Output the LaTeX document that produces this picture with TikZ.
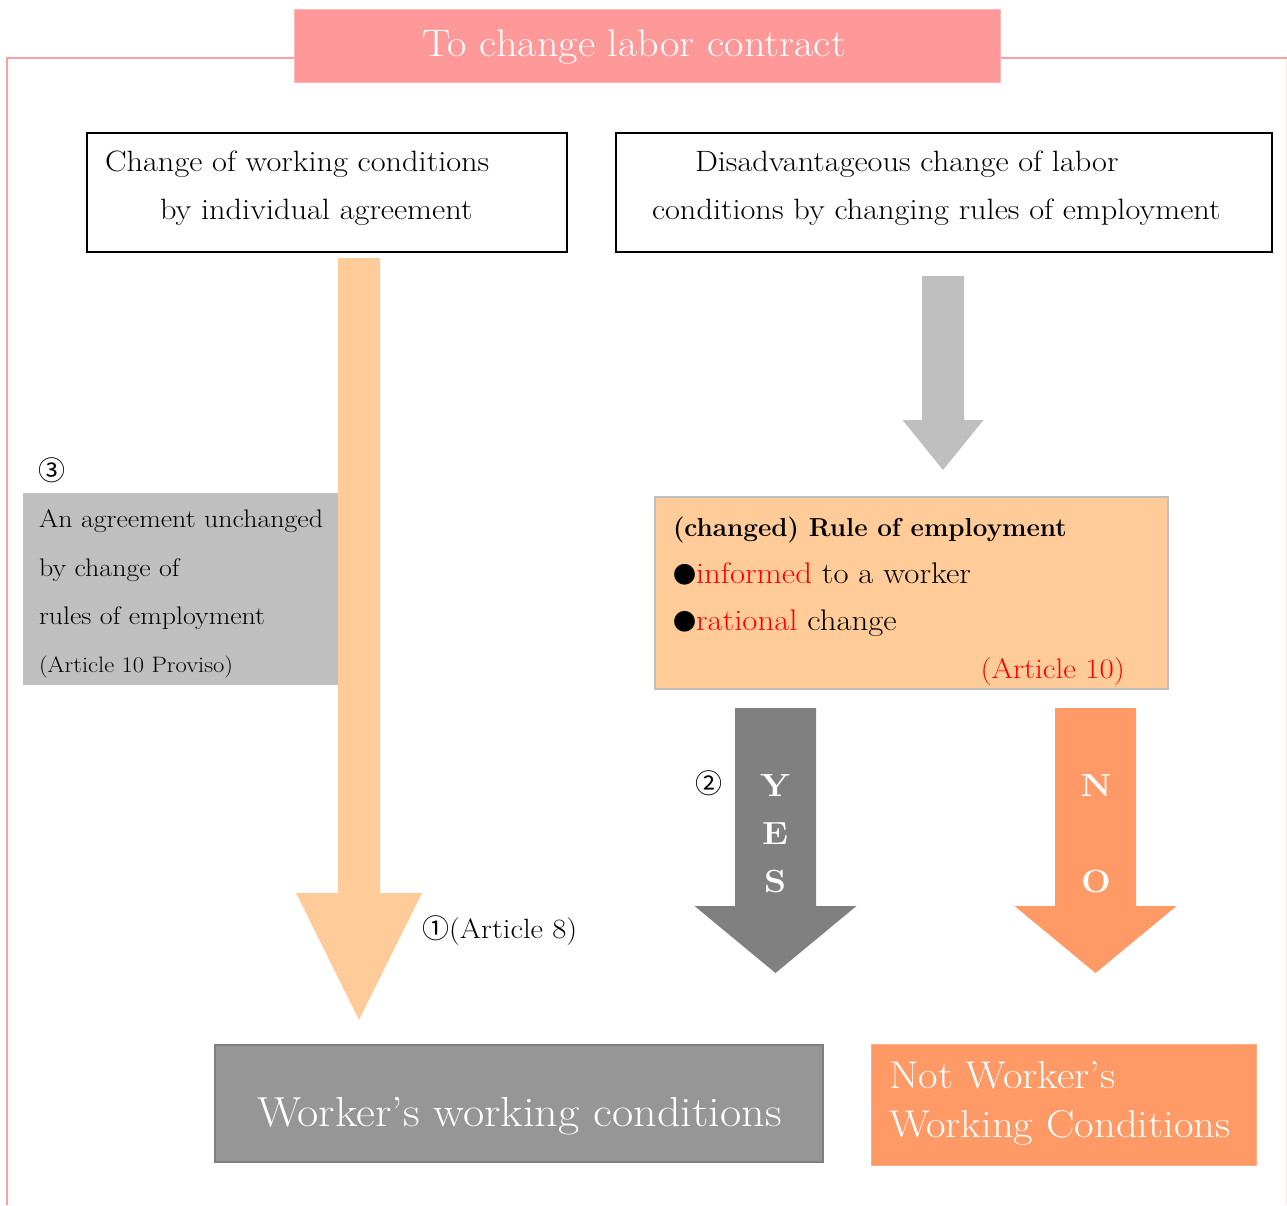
\documentclass[tikz,border=0pt]{standalone}
\usepackage{fontspec}
\setmainfont{Latin Modern Roman}[FakeStretch=1.1]
\newfontfamily\symfont{Noto Sans CJK JP}
\definecolor{framepink}{HTML}{FF9F9F}
\definecolor{framefaint}{HTML}{FFE4E4}
\definecolor{titlepink}{HTML}{FF9999}
\definecolor{peach}{HTML}{FFCC99}
\definecolor{lightgrey}{HTML}{BFBFBF}
\definecolor{midgrey}{HTML}{969696}
\definecolor{darkgrey}{HTML}{808080}
\definecolor{edgegrey}{HTML}{7F7F7F}
\definecolor{salmon}{HTML}{FF9966}
\definecolor{accentred}{HTML}{FF0000}
\newcommand\fsz[1]{\fontsize{#1}{1.2\dimexpr#1pt\relax}\selectfont}
\newcommand\dotmark{{\symfont\fsz{23}●}}
% block arrow pointing down: colour, centre x, top y, head y, tip y, shaft half width, head half width
\newcommand\blockarrowdown[7]{%
  \fill[#1] (#2-#6,#3) -- (#2+#6,#3) -- (#2+#6,#4) -- (#2+#7,#4) -- (#2,#5)
    -- (#2-#7,#4) -- (#2-#6,#4) -- cycle;}
\begin{document}
\begin{tikzpicture}[x=1pt,y=-1pt,
  txt/.style={inner sep=0pt,outer sep=0pt},
  box/.style={draw,inner sep=0pt,outer sep=0pt},
  body/.style={txt,font=\fsz{29.4}},
  small/.style={txt,font=\fsz{25.4}},
  arrowletter/.style={txt,text=white,font=\fsz{32}\bfseries,anchor=base},
  circnum/.style={txt,font=\fsz{27}\symfont}]
\useasboundingbox (0,0) rectangle (1287,1205);

% outer frame
\draw[framefaint,line width=1pt] (1286,60) -- (1286,1205);
\draw[framepink,line width=2.2pt] (294,58) -- (7,58) -- (7,1205);
\draw[framepink,line width=2.2pt] (1000,58) -- (1287,58);

% title
\node[box,draw=titlepink!70!white,line width=1pt,fill=titlepink,
  minimum width=706pt,minimum height=73pt,anchor=north west] (title) at (294,9) {};
\node[txt,text=white,font=\fsz{38.4},anchor=base] (titletext) at (634.5,56) {To change labor contract};

% upper boxes
\node[box,line width=2.4pt,minimum width=480pt,minimum height=119pt,anchor=north west] (indiv) at (87,133) {};
\node[body,anchor=base west] (indivA) at (105,171) {Change of working conditions};
\node[body,anchor=base west] (indivB) at (160,219) {by individual agreement};

\node[box,line width=2.4pt,minimum width=656pt,minimum height=119pt,anchor=north west] (rules) at (616,133) {};
\node[body,anchor=base west] (rulesA) at (695,171) {Disadvantageous change of labor};
\node[body,anchor=base west] (rulesB) at (652,219) {conditions by changing rules of employment};

% block arrows
\blockarrowdown{peach}{359}{258}{893}{1020}{21}{63}
\blockarrowdown{lightgrey}{943}{276}{420}{470}{21}{40.5}
\blockarrowdown{darkgrey}{775.5}{708}{906}{973}{40.5}{81}
\blockarrowdown{salmon}{1095.5}{708}{906}{973}{40.5}{81}

% proviso box
\node[txt,fill=lightgrey,minimum width=315pt,minimum height=192pt,anchor=north west] (proviso) at (23,493) {};
\node[circnum,anchor=base west] (three) at (38,480) {③};
\node[small,anchor=base west] (provA) at (39,527) {An agreement unchanged};
\node[small,anchor=base west] (provB) at (39,576) {by change of};
\node[small,anchor=base west] (provC) at (39,624) {rules of employment};
\node[txt,font=\fsz{22.3},anchor=base west] (provD) at (39,672) {(Article 10 Proviso)};

% changed rule of employment box
\node[box,draw=lightgrey,line width=2pt,fill=peach,minimum width=513pt,minimum height=192pt,anchor=north west] (changed) at (655,497) {};
\node[txt,font=\fsz{26}\bfseries,anchor=base west] (chA) at (673,536) {\scalebox{0.91}[1]{(changed) Rule of employment}};
\node[txt,font=\fsz{29.8},anchor=base west] (chB) at (673,583) {\dotmark\textcolor{accentred}{informed} to a worker};
\node[txt,font=\fsz{29.8},anchor=base west] (chC) at (673,630) {\dotmark\textcolor{accentred}{rational} change};
\node[txt,font=\fsz{28.3},text=accentred,anchor=base east] (chD) at (1125,678) {(Article 10)};

% arrow labels
\node[arrowletter] (yesY) at (775,796) {Y};
\node[arrowletter] (yesE) at (775,844) {E};
\node[arrowletter] (yesS) at (775,892) {S};
\node[arrowletter] (noN) at (1096,796) {N};
\node[arrowletter] (noO) at (1096,892) {O};
\node[circnum,anchor=base west] (two) at (695,793) {②};
\node[txt,font=\fsz{27.9},anchor=base west] (one) at (422,938) {{\symfont\fsz{27}①}(Article 8)};

% results
\node[box,draw=edgegrey,line width=2pt,fill=midgrey,minimum width=608pt,minimum height=117pt,anchor=north west] (worker) at (215,1045) {};
\node[txt,text=white,font=\fsz{42},anchor=base] (workertext) at (519.5,1126) {Worker’s working conditions};

\node[box,draw=salmon!80!white,line width=1pt,fill=salmon,minimum width=385pt,minimum height=121pt,anchor=north west] (notworker) at (871,1044) {};
\node[txt,text=white,font=\fsz{38.7},anchor=base west] (notA) at (889,1088) {Not Worker’s};
\node[txt,text=white,font=\fsz{38.7},anchor=base west] (notB) at (889,1137) {Working Conditions};
\end{tikzpicture}
\end{document}
